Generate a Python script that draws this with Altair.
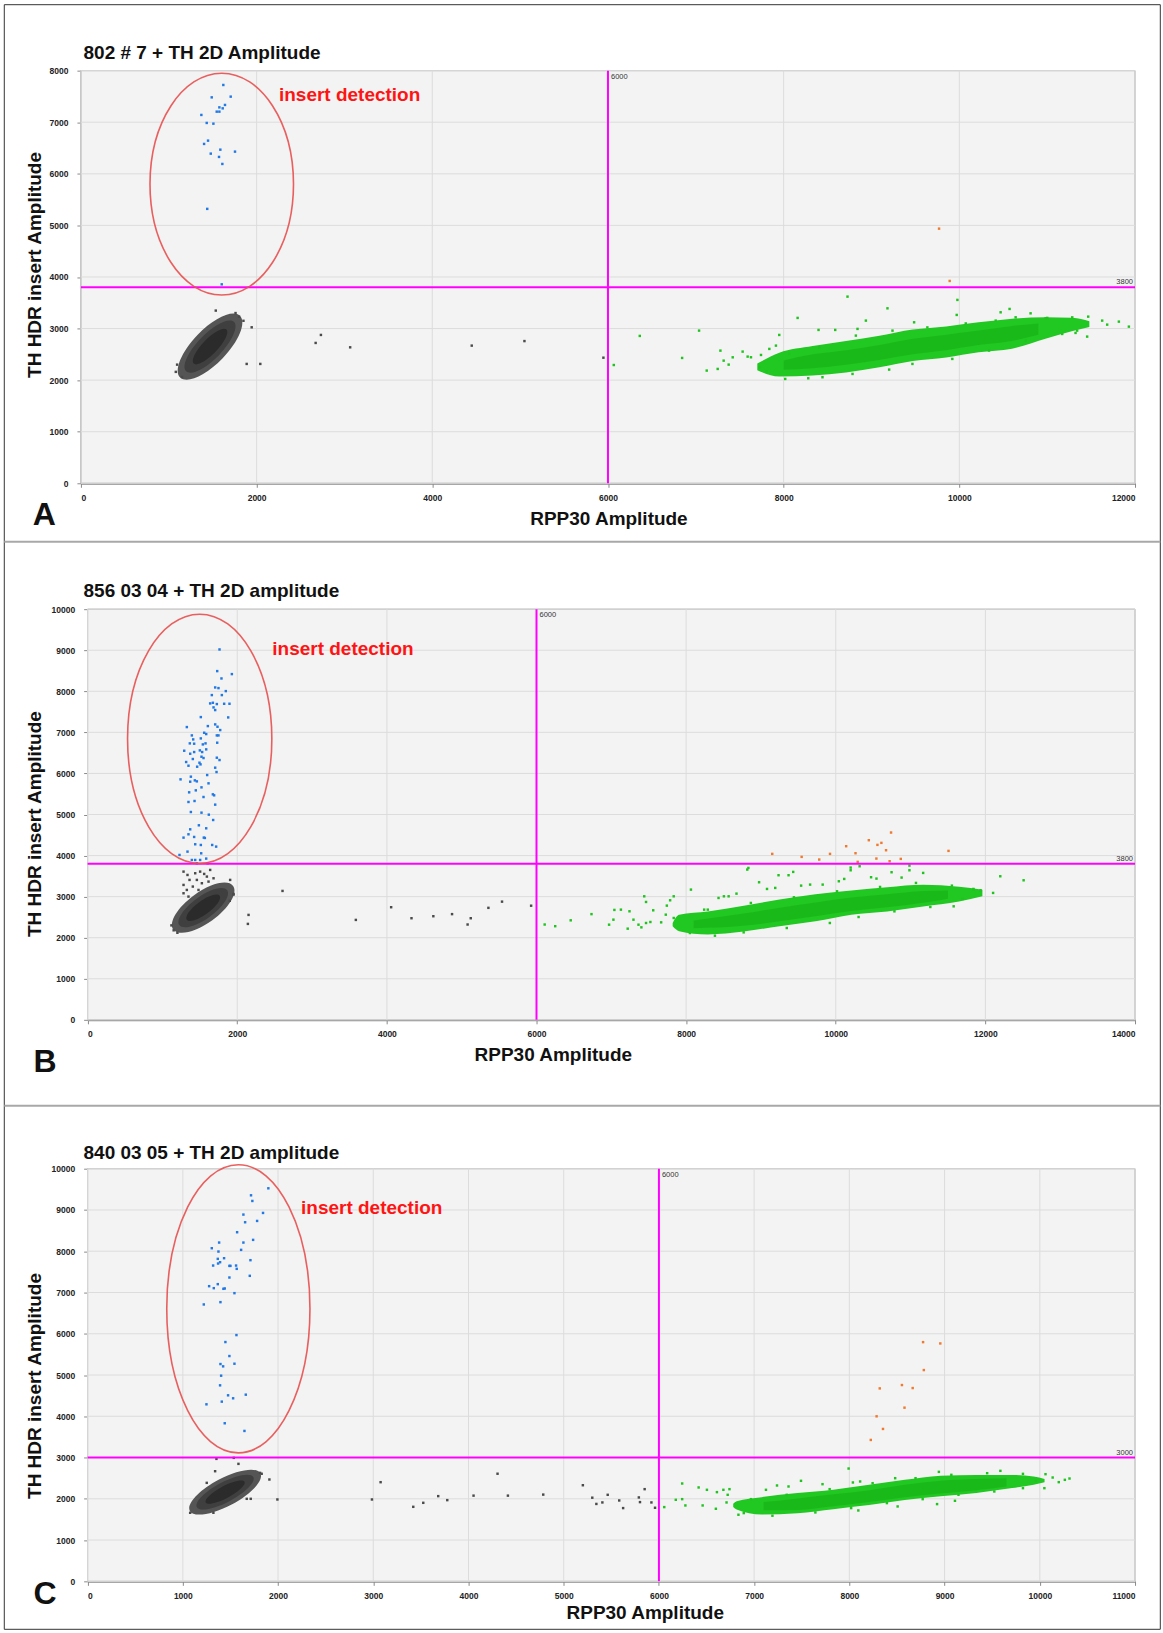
import altair as alt
import pandas as pd

FONT = "Liberation Sans"

# droplet classes: neg = double negative, rpp = RPP30 only, ins = insert only, dbl = double positive
CLASS_COLORS = {"neg": "#4a4a4a", "rpp": "#1fc41f", "ins": "#2179e6", "dbl": "#f07a30"}
NEG_SHADES = ["#555555", "#3f3f3f", "#2b2b2b"]
BAND_OUTER, BAND_CORE = "#22c822", "#11a611"
PLOT_BG, PLOT_EDGE, GRID = "#f3f3f3", "#9c9c9c", "#dcdcdc"
MAGENTA = "#ff00ff"
RING = "#e8504f"

# ---------------- A: 802 # 7 + TH ----------------
A_TITLE = "802 # 7 + TH 2D Amplitude"
A_XMAX, A_YMAX = 12000, 8000
A_XTICKS = [0, 2000, 4000, 6000, 8000, 10000, 12000]
A_YTICKS = [0, 1000, 2000, 3000, 4000, 5000, 6000, 7000, 8000]
A_RPP_CUT, A_INS_CUT = 6000, 3800

A_INS_X = [1621, 1489, 1705, 1640, 1576, 1614, 1546, 1576, 1371, 1432, 1508, 1447, 1402, 1587,
           1754, 1478, 1572, 1610, 1438, 1603]
A_INS_Y = [7722, 7482, 7496, 7335, 7288, 7269, 7205, 7205, 7141, 6986, 6972, 6643, 6579, 6468,
           6430, 6391, 6327, 6191, 5320, 3857]
A_DBL_X = [9769, 9890]
A_DBL_Y = [4937, 3923]
A_NEG_X = [1535, 1944, 1887, 2042, 2672, 2732, 3065, 4449, 5049, 5948, 1080, 1150, 1800, 1760,
           1850, 1095]
A_NEG_Y = [3348, 3024, 2314, 2314, 2721, 2876, 2636, 2669, 2757, 2435, 2160, 2060, 3230, 3300,
           3150, 2300]
A_RPP_X = [6066, 6362, 6844, 7037, 7124, 7280, 7249, 7317, 7374, 7420, 7533, 7590, 7628, 7742,
           7837, 7950, 7912, 8159, 8397, 8587, 8727, 8841, 8936, 9182, 9485, 9978, 9970, 10470,
           10572, 10811, 10982, 11285, 11467, 11626, 11683, 11816, 11930, 11455, 11323,
           7723, 7806, 8018, 8280, 8442, 8784, 9201, 9466, 9920, 10338, 10755, 11171, 11341,
           8064, 8405, 8822, 9239, 9636, 10073, 10414, 10641, 11001]
A_RPP_Y = [2293, 2857, 2430, 2960, 2185, 2572, 2217, 2378, 2301, 2442, 2553, 2456, 2443, 2488,
           2605, 2876, 2669, 3206, 2973, 2973, 3619, 2993, 3154, 3392, 3121, 3555, 3264, 3315,
           3380, 3295, 3198, 3217, 3231, 3154, 3076, 3134, 3037, 2844, 2915,
           2249, 2171, 2023, 2036, 2056, 2120, 2204, 2314, 2411, 2573, 2766, 2895, 2960,
           2508, 2636, 2863, 2960, 3022, 3099, 3154, 3218, 3206]
# dense RPP30-positive cloud: lower / upper edge along RPP30 amplitude
A_BAND_X = [7700, 7950, 8330, 8710, 9090, 9470, 9850, 10220, 10600, 10980, 11290, 11480]
A_BAND_LO = [2190, 2070, 2090, 2150, 2250, 2370, 2440, 2540, 2610, 2800, 2950, 3030]
A_BAND_HI = [2320, 2530, 2660, 2760, 2860, 2980, 3040, 3120, 3190, 3220, 3210, 3140]
A_CORE_X = [8000, 8330, 8710, 9090, 9470, 9850, 10220, 10600, 10900]
A_CORE_LO = [2200, 2230, 2300, 2390, 2500, 2580, 2680, 2760, 2880]
A_CORE_HI = [2380, 2500, 2580, 2680, 2800, 2880, 2960, 3050, 3100]
# dense double-negative cloud (centre)
A_NEG_CX, A_NEG_CY = [1470], [2650]
# circled insert population (centre) and label anchor
A_RING_X, A_RING_Y = [1603], [5800]
A_NOTE_X, A_NOTE_Y = [2255], [7533]

# ---------------- B: 856 03 04 + TH ----------------
B_TITLE = "856 03 04 + TH 2D amplitude"
B_XMAX, B_YMAX = 14000, 10000
B_XTICKS = [0, 2000, 4000, 6000, 8000, 10000, 12000, 14000]
B_YTICKS = [0, 1000, 2000, 3000, 4000, 5000, 6000, 7000, 8000, 9000, 10000]
B_RPP_CUT, B_INS_CUT = 6000, 3800

B_INS_X = [1763, 1732, 1928, 1789, 1705, 1749, 1847, 1660, 1794, 1638, 1674, 1727, 1825, 1896,
           1683, 1705, 1879, 1513, 1326, 1705, 1736, 1607, 1558, 1772, 1727, 1749, 1585, 1393,
           1411, 1513, 1366, 1424, 1576, 1540, 1732, 1291, 1371, 1424, 1500, 1531, 1585, 1406,
           1522, 1549, 1495, 1509, 1727, 1317, 1348, 1464, 1705, 1763, 1723, 1598, 1380, 1433,
           1460, 1242, 1616, 1371, 1522, 1446, 1674, 1691, 1357, 1549, 1429, 1348, 1705, 1380,
           1522, 1620, 1678, 1487, 1585, 1371, 1282, 1348, 1424, 1553, 1567, 1438, 1513, 1665,
           1718, 1335, 1518, 1228, 1393, 1438, 1504, 1585, 1460, 1603]
B_INS_Y = [9019, 8492, 8419, 8313, 8094, 8078, 8005, 7908, 7908, 7705, 7721, 7689, 7697, 7697,
           7608, 7543, 7364, 7372, 7129, 7194, 7137, 7153, 6991, 7056, 6926, 6926, 6959, 6926,
           6829, 6853, 6732, 6724, 6732, 6707, 6748, 6553, 6480, 6521, 6561, 6521, 6586, 6351,
           6407, 6375, 6261, 6221, 6383, 6278, 6188, 6164, 6140, 6326, 6034, 5961, 5921, 5831,
           5807, 5856, 5759, 5799, 5661, 5588, 5491, 5467, 5540, 5426, 5329, 5305, 5240, 5061,
           5045, 4996, 4866, 4737, 4664, 4639, 4437, 4518, 4453, 4437, 4429, 4275, 4258, 4258,
           4218, 4096, 4055, 4015, 3893, 3893, 3893, 3926, 3812, 3812]
B_DBL_X = [9151, 9544, 9779, 9923, 10139, 10264, 10293, 10442, 10557, 10610, 10672, 10543,
           10720, 10739, 10869, 11507]
B_DBL_Y = [4041, 3968, 3903, 4041, 4228, 4057, 3846, 4374, 4260, 4309, 4130, 3927, 3862, 4561,
           3919, 4114]
B_NEG_X = [1282, 1335, 1438, 1504, 1558, 1594, 1638, 1362, 1460, 1527, 1616, 1282, 1406, 1482,
           1326, 1683, 1905, 1282, 1950, 1348, 2605, 2151, 2142, 3585, 4057, 4329, 4621, 4871,
           5079, 5121, 5357, 5539, 5928, 1150, 1200, 1900, 1950, 1120]
B_NEG_Y = [3609, 3528, 3569, 3609, 3553, 3488, 3650, 3407, 3407, 3326, 3366, 3285, 3245, 3163,
           3163, 3447, 3407, 3082, 3066, 3001, 3139, 2555, 2336, 2433, 2742, 2474, 2523, 2574,
           2321, 2474, 2727, 2878, 2779, 2180, 2120, 2900, 3050, 2300]
B_RPP_X = [6109, 6250, 6457, 6735, 7041, 6970, 7028, 7128, 7219, 7243, 7296, 7363, 7402, 7440,
           7464, 7464, 7522, 7560, 7666, 7728, 7742, 7786, 7834, 7834, 8064, 8241, 8433, 8505,
           8568, 8673, 8817, 8832, 8975, 9081, 9191, 9235, 9369, 9431, 9537, 9657, 9825, 10041,
           10113, 10199, 10199, 10319, 10472, 10544, 10746, 10880, 10985, 10985, 11168, 11576,
           11840, 11935, 12103, 12199, 12511,
           8050, 8385, 8769, 9345, 9921, 10305, 10784, 11264, 11696,
           8289, 8865, 9441, 10017, 10592, 11072, 11552, 11840]
B_RPP_Y = [2321, 2280, 2423, 2574, 2676, 2317, 2439, 2683, 2220, 2643, 2439, 2317, 2252, 3008,
           2870, 2358, 2382, 2667, 2374, 2561, 2781, 2911, 3008, 2480, 3171, 2683, 2968, 3008,
           3008, 3073, 3659, 3699, 3350, 3187, 3212, 3521, 3521, 3602, 3268, 3293, 3293, 3374,
           3431, 3642, 3707, 3740, 3472, 3439, 3594, 3464, 3642, 3756, 3577, 2764, 3171, 3155,
           3090, 3496, 3398,
           2114, 2049, 2130, 2236, 2358, 2504, 2642, 2748, 2943,
           2683, 2846, 2984, 3130, 3236, 3334, 3268, 3187]
B_BAND_X = [7820, 7906, 8290, 8770, 9249, 9729, 10209, 10688, 11168, 11648, 11960]
B_BAND_LO = [2280, 2160, 2080, 2150, 2280, 2400, 2560, 2640, 2760, 2880, 3010]
B_BAND_HI = [2360, 2560, 2640, 2780, 2930, 3060, 3150, 3230, 3290, 3240, 3170]
B_CORE_X = [8100, 8770, 9249, 9729, 10209, 10688, 11168, 11500]
B_CORE_LO = [2230, 2290, 2400, 2520, 2650, 2740, 2850, 2950]
B_CORE_HI = [2420, 2590, 2730, 2860, 2980, 3060, 3140, 3150]
B_NEG_CX, B_NEG_CY = [1545], [2730]
B_RING_X, B_RING_Y = [1498], [6844]
B_NOTE_X, B_NOTE_Y = [2469], [9027]

# ---------------- C: 840 03 05 + TH ----------------
C_TITLE = "840 03 05 + TH 2D amplitude"
C_XMAX, C_YMAX = 11000, 10000
C_XTICKS = [0, 1000, 2000, 3000, 4000, 5000, 6000, 7000, 8000, 9000, 10000, 11000]
C_YTICKS = [0, 1000, 2000, 3000, 4000, 5000, 6000, 7000, 8000, 9000, 10000]
C_RPP_CUT, C_INS_CUT = 6000, 3000

C_INS_X = [1898, 1716, 1730, 1842, 1636, 1780, 1654, 1570, 1738, 1636, 1381, 1612, 1304, 1374,
           1433, 1367, 1710, 1370, 1391, 1318, 1489, 1500, 1559, 1566, 1489, 1703, 1276, 1325,
           1367, 1426, 1440, 1542, 1395, 1220, 1563, 1447, 1489, 1395, 1423, 1542, 1402, 1391,
           1475, 1528, 1661, 1248, 1409, 1440, 1647]
C_INS_Y = [9525, 9355, 9218, 8928, 8888, 8734, 8702, 8460, 8275, 8210, 8210, 8033, 8073, 7992,
           7831, 7815, 7783, 7702, 7734, 7653, 7645, 7645, 7653, 7573, 7363, 7404, 7153, 7105,
           7202, 7089, 7097, 6984, 6766, 6710, 5968, 5799, 5460, 5266, 5210, 5274, 4984, 4750,
           4508, 4436, 4524, 4290, 4355, 3831, 3645]
C_DBL_X = [8774, 8955, 8782, 8319, 8552, 8665, 8579, 8286, 8353, 8225]
C_DBL_Y = [5797, 5765, 5120, 4676, 4757, 4684, 4209, 3999, 3693, 3427]
C_NEG_X = [1353, 1535, 1584, 1339, 1251, 1811, 1828, 1909, 1671, 1713, 1993, 2986, 3077, 3420,
           3525, 3682, 3777, 1077, 1321, 5406, 5462, 5583, 5624, 5789, 5801, 5850, 5921, 5959,
           4053, 4305, 4414, 4785, 5201, 5300, 5343]
C_NEG_Y = [2968, 2992, 2847, 2669, 2387, 2629, 2607, 2468, 2000, 2000, 1984, 1984, 2403, 1806,
           1903, 2065, 1968, 1661, 1661, 1912, 2097, 1960, 1775, 2033, 1920, 2234, 1912, 1783,
           2077, 2608, 2077, 2102, 2329, 2027, 1876]
C_RPP_X = [6056, 6177, 6244, 6278, 6244, 6417, 6504, 6459, 6609, 6677, 6741, 6598, 6710, 6722,
           7124, 7240, 7361, 7492, 7718, 7992, 8037, 8113, 8481, 8940, 9586, 10060, 10135, 10199,
           10263, 10312, 10048, 9958, 9109, 8921, 8507, 8094, 6835,
           6891, 7192, 7643, 8019, 8394, 8770, 9146, 9522, 9823,
           6966, 7342, 7793, 8244, 8695, 9071, 9447, 9823]
C_RPP_Y = [1799, 1976, 1992, 1839, 2371, 2275, 2218, 1839, 2162, 2218, 2234, 1759, 1912, 2097,
           2218, 2323, 2299, 2436, 2355, 2734, 2396, 2420, 2500, 2653, 2678, 2597, 2516, 2404,
           2460, 2492, 2258, 2436, 1952, 1872, 1815, 1718, 1614,
           1654, 1590, 1670, 1775, 1896, 1992, 2097, 2178, 2258,
           1992, 2097, 2234, 2379, 2500, 2581, 2621, 2605]
C_BAND_X = [6780, 6816, 7079, 7455, 7831, 8207, 8582, 8958, 9334, 9710, 9936, 10050]
C_BAND_LO = [1800, 1740, 1620, 1650, 1750, 1850, 1970, 2060, 2140, 2260, 2340, 2400]
C_BAND_HI = [1880, 1940, 2040, 2140, 2220, 2340, 2460, 2560, 2580, 2580, 2540, 2480]
C_CORE_X = [7100, 7455, 7831, 8207, 8582, 8958, 9334, 9650]
C_CORE_LO = [1720, 1730, 1820, 1920, 2040, 2130, 2210, 2300]
C_CORE_HI = [1920, 2010, 2110, 2210, 2340, 2440, 2480, 2500]
C_NEG_CX, C_NEG_CY = [1444], [2162]
C_RING_X, C_RING_Y = [1583], [6605]
C_NOTE_X, C_NOTE_Y = [2242], [9056]

# layout (pixels): every panel cell is PANEL_W wide; plot area starts at x0 inside it
PANEL_W = 1055
GAP_AB, GAP_BC = 126, 149
DROP_SIZE = 6


def ring_path(q):
    """Upright ellipse outline in the unit box, horizontal half-axis q."""
    return f"M0,-1A{q},1 0 1 1 0,1A{q},1 0 1 1 0,-1Z"


def blob_path(q):
    """Lying ellipse in the unit box, vertical half-axis q."""
    return f"M-1,0A1,{q} 0 1 1 1,0A1,{q} 0 1 1 -1,0Z"


def drops(cls, xs, ys):
    return pd.DataFrame({"x": xs, "y": ys, "g": cls})


def one(**kw):
    return pd.DataFrame({k: (v if isinstance(v, list) else [v]) for k, v in kw.items()})


def panel(p):
    x0, w, h = p["x0"], PANEL_W, p["h"]
    xs = alt.Scale(domain=[0, p["xmax"]], range=[x0, w], nice=False, zero=True)
    ys = alt.Scale(domain=[0, p["ymax"]], nice=False, zero=True)
    X = alt.X("x:Q", scale=xs, axis=alt.Axis(
        values=p["xticks"], format="d", title="RPP30 Amplitude", grid=False,
        titleX=p["xtitle"][0], titleY=p["xtitle"][1], titleBaseline="middle", titleAlign="center"))
    Y = alt.Y("y:Q", scale=ys, axis=alt.Axis(
        values=p["yticks"], format="d", title="TH HDR insert Amplitude", grid=False, offset=-x0,
        titleX=p["ytitle"][0], titleY=p["ytitle"][1], titleAngle=270,
        titleBaseline="middle", titleAlign="center"))

    layers = [
        # plot background and frame
        alt.Chart(one(k=0)).mark_rect(fill=PLOT_BG, stroke=PLOT_EDGE, strokeWidth=1).encode(
            x=alt.value(x0), x2=alt.value(w), y=alt.value(0), y2=alt.value(h)),
        # grid
        alt.Chart(pd.DataFrame({"x": p["xticks"]})).mark_rule(color=GRID, strokeWidth=1)
        .encode(x=X),
        alt.Chart(pd.DataFrame({"y": p["yticks"]})).mark_rule(color=GRID, strokeWidth=1)
        .encode(y=Y, x=alt.value(x0), x2=alt.value(w)),
    ]
    band = pd.DataFrame({"x": p["band"][0], "y": p["band"][1], "y2": p["band"][2]})
    core = pd.DataFrame({"x": p["core"][0], "y": p["core"][1], "y2": p["core"][2]})
    layers += [
        alt.Chart(band).mark_area(color=BAND_OUTER, interpolate="monotone", opacity=1)
        .encode(x=X, y=Y, y2="y2:Q"),
        alt.Chart(core).mark_area(color=BAND_CORE, interpolate="monotone", opacity=0.45)
        .encode(x=X, y=Y, y2="y2:Q"),
    ]
    # double-negative cloud: three nested shades, darkest in the middle
    a, q, ang = p["blob"]
    negc = pd.DataFrame({"x": p["negc"][0], "y": p["negc"][1]})
    for shade, k, kq in zip(NEG_SHADES, [1.0, 0.8, 0.55], [1.0, 0.9, 0.8]):
        layers.append(
            alt.Chart(negc).mark_point(shape=blob_path(q * kq), filled=True, opacity=1,
                                       color=shade, size=(2 * a * k) ** 2, angle=ang,
                                       strokeWidth=0).encode(x=X, y=Y))
    d = pd.concat([drops("neg", *p["neg"]), drops("rpp", *p["rpp"]),
                   drops("ins", *p["ins"]), drops("dbl", *p["dbl"])], ignore_index=True)
    layers.append(
        alt.Chart(d).mark_square(size=DROP_SIZE, opacity=1).encode(
            x=X, y=Y,
            color=alt.Color("g:N", legend=None,
                            scale=alt.Scale(domain=list(CLASS_COLORS),
                                            range=list(CLASS_COLORS.values())))))
    # threshold lines and their labels
    layers += [
        alt.Chart(one(x=p["rcut"])).mark_rule(color=MAGENTA, strokeWidth=2).encode(x=X),
        alt.Chart(one(y=p["icut"])).mark_rule(color=MAGENTA, strokeWidth=2)
        .encode(y=Y, x=alt.value(x0), x2=alt.value(w)),
        alt.Chart(one(x=p["rcut"], y=p["ymax"], t=str(p["rcut"]))).mark_text(
            align="left", baseline="top", dx=3, dy=2, font=FONT, fontSize=7.5, color="#333")
        .encode(x=X, y=Y, text="t:N"),
        alt.Chart(one(x=p["xmax"], y=p["icut"], t=str(p["icut"]))).mark_text(
            align="right", baseline="bottom", dx=-2, dy=-1, font=FONT, fontSize=7.5, color="#333")
        .encode(x=X, y=Y, text="t:N"),
    ]
    # circled insert-positive population, annotation, panel title and letter
    rr, rq = p["ring"]
    layers += [
        alt.Chart(one(x=p["ringc"][0], y=p["ringc"][1])).mark_point(
            shape=ring_path(rq), filled=False, color=RING, strokeWidth=1.6, opacity=0.9,
            size=(2 * rr) ** 2).encode(x=X, y=Y),
        alt.Chart(one(x=p["note"][0], y=p["note"][1], t="insert detection")).mark_text(
            align="left", baseline="middle", font=FONT, fontSize=19, fontWeight="bold",
            color="#ff1414").encode(x=X, y=Y, text="t:N"),
        alt.Chart(one(t=p["title"])).mark_text(
            align="left", baseline="middle", font=FONT, fontSize=19, fontWeight="bold",
            color="#111").encode(x=alt.value(p["tpos"][0]), y=alt.value(p["tpos"][1]),
                                 text="t:N"),
        alt.Chart(one(t=p["letter"][0])).mark_text(
            align="center", baseline="middle", font=FONT, fontSize=32, fontWeight="bold",
            color="#111").encode(x=alt.value(p["letter"][1]), y=alt.value(p["letter"][2]),
                                 text="t:N"),
    ]
    layers += p.get("extra", [])
    return alt.layer(*layers).properties(width=w, height=h)


def hline(x1, x2, y, color, width):
    return alt.Chart(one(k=0)).mark_rule(color=color, strokeWidth=width).encode(
        x=alt.value(x1), x2=alt.value(x2), y=alt.value(y))


def vline(x, y1, y2, color, width):
    return alt.Chart(one(k=0)).mark_rule(color=color, strokeWidth=width).encode(
        x=alt.value(x), y=alt.value(y1), y2=alt.value(y2))


def spacer(h):
    return alt.Chart(one(k=0)).mark_point(opacity=0).encode(
        x=alt.value(0), y=alt.value(0)).properties(width=1, height=h)


# page frame, expressed from the origin of the first panel cell
FRAME = [
    hline(-80.2, 1081.8, -69.5, "white", 1),
    hline(-80.2, 1081.8, 1562.5, "white", 1),
    hline(-76.7, 1080.3, -66, "#333", 1),
    hline(-76.7, 1080.3, 1560, "#333", 1),
    vline(-76.7, -66, 1560, "#333", 1),
    vline(1080.3, -66, 1560, "#333", 1),
    hline(-76.7, 1080.3, 471.5, "#a8a8a8", 2),
    hline(-76.7, 1080.3, 1036, "#a8a8a8", 2),
]

pa = panel(dict(
    title=A_TITLE, xmax=A_XMAX, ymax=A_YMAX, xticks=A_XTICKS, yticks=A_YTICKS,
    rcut=A_RPP_CUT, icut=A_INS_CUT, ins=(A_INS_X, A_INS_Y), dbl=(A_DBL_X, A_DBL_Y),
    neg=(A_NEG_X, A_NEG_Y), rpp=(A_RPP_X, A_RPP_Y),
    band=(A_BAND_X, A_BAND_LO, A_BAND_HI), core=(A_CORE_X, A_CORE_LO, A_CORE_HI),
    negc=(A_NEG_CX, A_NEG_CY), blob=(43, 0.4, 314),
    ringc=(A_RING_X, A_RING_Y), ring=(111, 0.647), note=(A_NOTE_X, A_NOTE_Y),
    letter=("A", -36.7, 444.5), xtitle=(528, 35), ytitle=(-46.3, 194),
    tpos=(2.6, -18), x0=0, h=413, extra=FRAME))

pb = panel(dict(
    title=B_TITLE, xmax=B_XMAX, ymax=B_YMAX, xticks=B_XTICKS, yticks=B_YTICKS,
    rcut=B_RPP_CUT, icut=B_INS_CUT, ins=(B_INS_X, B_INS_Y), dbl=(B_DBL_X, B_DBL_Y),
    neg=(B_NEG_X, B_NEG_Y), rpp=(B_RPP_X, B_RPP_Y),
    band=(B_BAND_X, B_BAND_LO, B_BAND_HI), core=(B_CORE_X, B_CORE_LO, B_CORE_HI),
    negc=(B_NEG_CX, B_NEG_CY), blob=(37, 0.42, 324),
    ringc=(B_RING_X, B_RING_Y), ring=(124.7, 0.579), note=(B_NOTE_X, B_NOTE_Y),
    letter=("B", -35.9, 453), xtitle=(472.3, 35), ytitle=(-53, 214.6),
    tpos=(2.6, -18), x0=6.7, h=411))

pc = panel(dict(
    title=C_TITLE, xmax=C_XMAX, ymax=C_YMAX, xticks=C_XTICKS, yticks=C_YTICKS,
    rcut=C_RPP_CUT, icut=C_INS_CUT, ins=(C_INS_X, C_INS_Y), dbl=(C_DBL_X, C_DBL_Y),
    neg=(C_NEG_X, C_NEG_Y), rpp=(C_RPP_X, C_RPP_Y),
    band=(C_BAND_X, C_BAND_LO, C_BAND_HI), core=(C_CORE_X, C_CORE_LO, C_CORE_HI),
    negc=(C_NEG_CX, C_NEG_CY), blob=(40, 0.35, 332),
    ringc=(C_RING_X, C_RING_Y), ring=(144.2, 0.497), note=(C_NOTE_X, C_NOTE_Y),
    letter=("C", -35.9, 426), xtitle=(564.3, 31), ytitle=(-53, 217),
    tpos=(2.6, -16), x0=6.7, h=413))

chart = (
    alt.VConcatChart(vconcat=[pa, spacer(GAP_AB), pb, spacer(GAP_BC), pc],
                     spacing=0, bounds="flush")
    .properties(padding=0, background="white")
    .configure_view(strokeWidth=0, fillOpacity=0, strokeOpacity=0)
    .configure_axis(
        domainColor="#8a8a8a", domainWidth=2, tickColor="#8a8a8a", tickSize=4, zindex=1,
        labelFont=FONT, labelFontSize=8.5, labelFontWeight="bold", labelColor="#222",
        labelPadding=6, titleFont=FONT, titleFontSize=19, titleFontWeight="bold",
        titleColor="#111")
    .configure_axisY(labelPadding=9)
)

chart.save("out.html", embed_options={"renderer": "svg", "actions": False})
